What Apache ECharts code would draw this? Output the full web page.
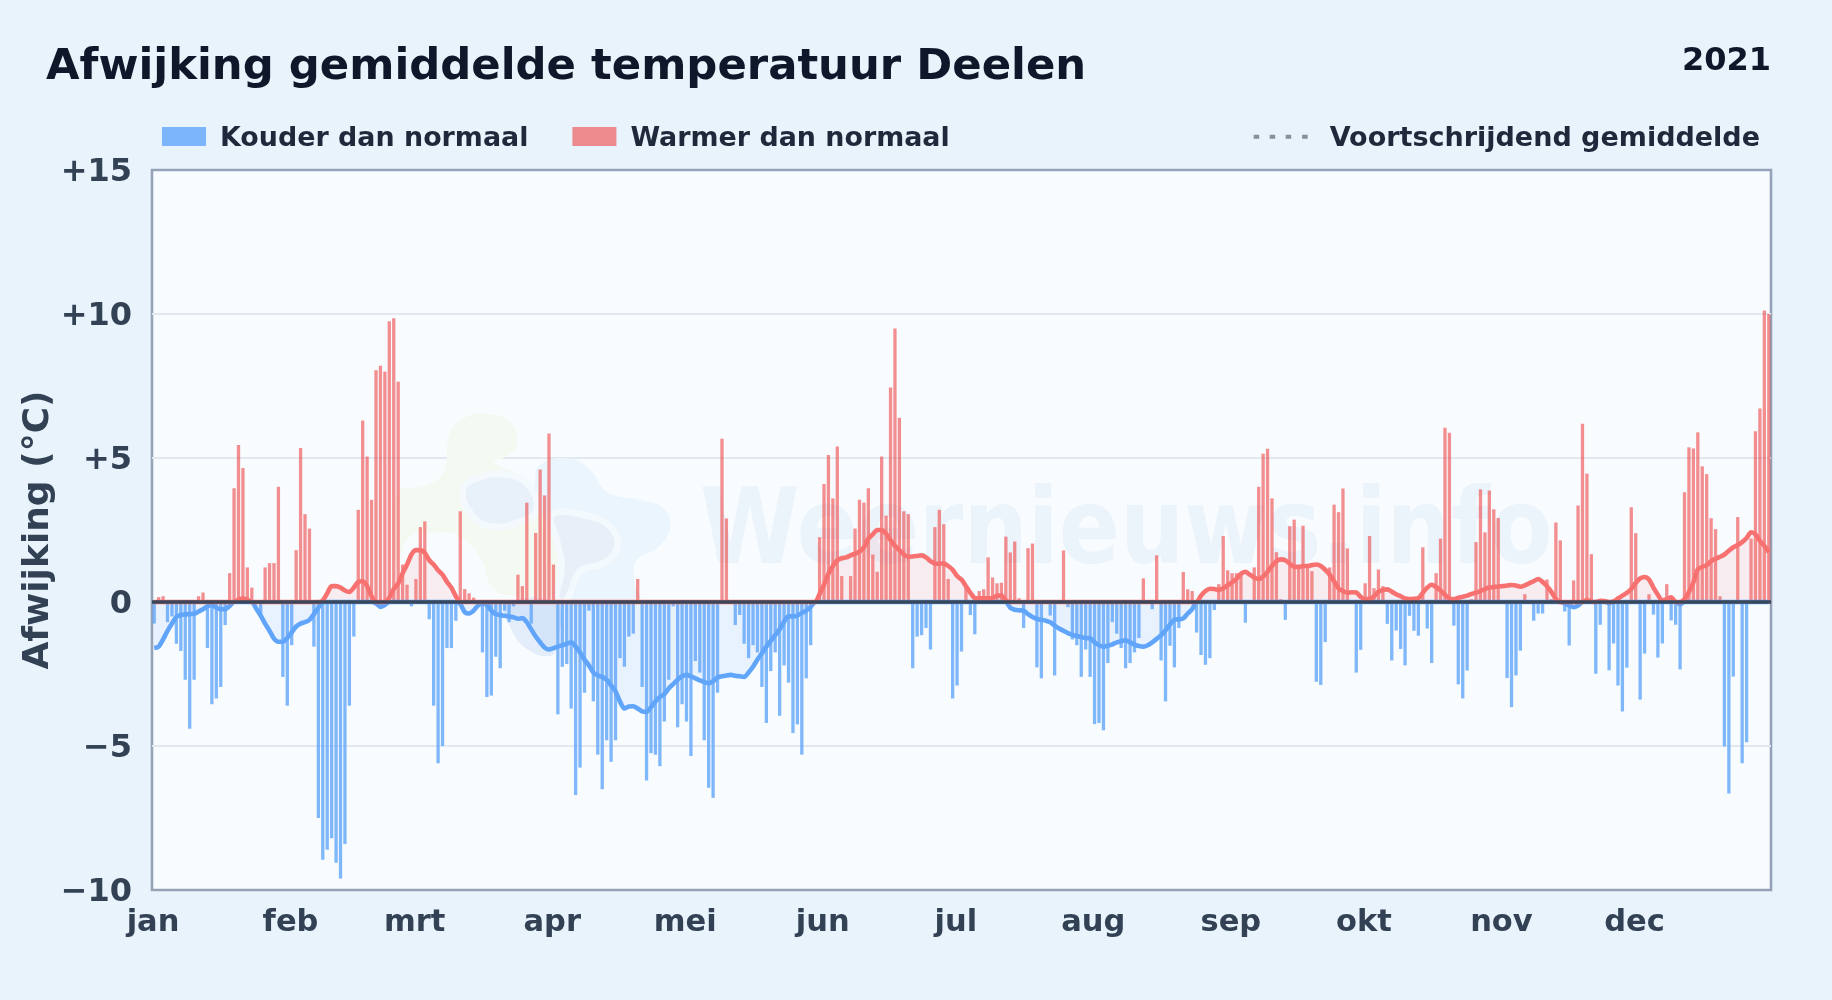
<!DOCTYPE html>
<html><head><meta charset="utf-8">
<style>html,body{margin:0;padding:0;background:#e8f3fc}#c{width:1832px;height:1000px}</style>
<script src="https://cdn.jsdelivr.net/npm/echarts@6/dist/echarts.min.js"></script>
</head><body><div id="c"></div>
<script>
const titleText = "Afwijking gemiddelde temperatuur Deelen";
const yearText = "2021";
const monthLabels = ["jan","feb","mrt","apr","mei","jun","jul","aug","sep","okt","nov","dec"];
const monthStarts = [0,31,59,90,120,151,181,212,243,273,304,334];
const yTicks = [-10,-5,0,5,10,15];
const dailyAnomaly = [
-0.75,0.17,0.2,-0.7,-0.5,-1.45,-1.7,-2.7,-4.4,-2.7,
0.2,0.33,-1.6,-3.55,-3.35,-2.95,-0.8,1.0,3.95,5.45,
4.65,1.2,0.5,0,-0.55,1.2,1.35,1.35,4.0,-2.6,
-3.6,-1.5,1.8,5.35,3.05,2.55,-1.55,-7.5,-8.95,-8.6,
-8.2,-9.05,-9.6,-8.4,-3.6,-1.2,3.2,6.3,5.05,3.55,
8.05,8.2,8.0,9.75,9.85,7.65,1.3,0.6,-0.15,0.8,
2.6,2.8,-0.6,-3.6,-5.6,-5.0,-1.6,-1.6,-0.65,3.15,
0.45,0.3,0.15,0,-1.75,-3.3,-3.25,-1.9,-2.3,-0.3,
-0.7,-0.15,0.95,0.55,3.45,-0.75,2.4,4.6,3.7,5.85,
1.3,-3.9,-2.25,-2.15,-3.7,-6.7,-5.75,-3.15,-0.3,-3.45,
-5.3,-6.5,-4.8,-5.55,-4.8,-1.95,-2.25,-1.2,-1.1,0.8,
-2.95,-6.2,-5.25,-5.3,-5.7,-4.15,-2.7,-0.15,-4.35,-3.55,
-4.15,-5.35,-2.05,-2.45,-4.8,-6.45,-6.8,-3.15,5.67,2.9,
0,-0.8,-0.45,-1.45,-1.95,-1.5,-1.75,-2.95,-4.2,-2.4,
-1.75,-3.95,-2.2,-2.8,-4.55,-4.25,-5.3,-2.65,-1.5,0,
2.25,4.1,5.1,3.6,5.4,0.9,-0.05,0.9,2.55,3.55,
3.45,3.95,1.65,1.05,5.05,3.0,7.45,9.5,6.4,3.15,
3.05,-2.3,-1.2,-1.15,-0.9,-1.65,2.6,3.2,2.7,0.8,
-3.35,-2.9,-1.72,0.5,-0.45,-1.12,0.38,0.44,1.55,0.85,
0.65,0.67,2.27,1.72,2.1,0.13,-0.9,1.87,2.03,-2.27,
-2.65,0,-0.47,-2.55,0,1.79,-0.18,-1.3,-1.5,-2.6,
-1.65,-2.6,-4.24,-4.2,-4.45,-2.12,-0.7,-1.1,-1.6,-2.3,
-2.12,-1.75,-1.25,0.82,0,-0.25,1.62,-2.03,-3.45,-1.52,
-2.27,-0.9,1.04,0.44,0.38,-1.06,-1.84,-2.18,-1.95,-0.28,
0.62,2.29,1.1,1.0,1.0,0.95,-0.72,0,1.2,4.0,
5.15,5.32,3.6,1.73,0.1,-0.62,2.63,2.86,1.25,2.65,
1.22,1.07,-2.77,-2.88,-1.39,1.2,3.38,3.12,3.94,1.86,
0,-2.45,-1.66,0.65,2.29,0.48,1.13,0.55,-0.76,-2.03,
-0.99,-1.63,-2.2,-0.48,-1.0,-1.17,1.9,-0.92,-2.12,1.0,
2.2,6.05,5.88,-0.82,-2.86,-3.35,-2.38,0.1,2.08,3.91,
2.42,3.87,3.22,2.92,0,-2.64,-3.65,-2.55,-1.69,0.27,
0,-0.65,-0.4,-0.4,0.78,0.1,2.76,2.14,-0.33,-1.51,
0.75,3.35,6.19,4.46,1.66,-2.49,-0.79,0,-2.37,-1.44,
-2.9,-3.8,-2.28,3.29,2.39,-3.39,-1.79,0.27,-0.44,-1.93,
-1.44,0.62,-0.64,-0.79,-2.34,3.81,5.37,5.33,5.89,4.71,
4.44,2.91,2.53,0.2,-5.02,-6.65,-2.59,2.95,-5.6,-4.87,
2.2,5.93,6.72,10.12,10.0
];
const rollingAverage = [
-1.6,-1.55,-1.3,-1.0,-0.75,-0.52,-0.45,-0.43,-0.42,-0.41,
-0.33,-0.25,-0.15,-0.1,-0.2,-0.25,-0.25,-0.14,0,0.08,
0.13,0.08,0,-0.23,-0.47,-0.75,-1.0,-1.27,-1.38,-1.38,
-1.25,-1.05,-0.85,-0.75,-0.7,-0.62,-0.42,-0.2,0.05,0.3,
0.55,0.55,0.5,0.4,0.35,0.5,0.7,0.72,0.55,0.2,
-0.05,-0.17,-0.1,0.15,0.45,0.65,1.0,1.3,1.65,1.8,
1.8,1.7,1.45,1.3,1.1,0.95,0.7,0.5,0.2,-0.07,
-0.35,-0.4,-0.3,-0.12,-0.05,-0.1,-0.3,-0.42,-0.45,-0.48,
-0.5,-0.53,-0.58,-0.56,-0.7,-0.95,-1.2,-1.4,-1.58,-1.65,
-1.6,-1.55,-1.5,-1.45,-1.4,-1.55,-1.75,-2.0,-2.2,-2.45,
-2.55,-2.6,-2.7,-2.9,-3.1,-3.45,-3.7,-3.63,-3.62,-3.7,
-3.8,-3.82,-3.65,-3.45,-3.3,-3.2,-3.0,-2.85,-2.7,-2.58,
-2.53,-2.58,-2.65,-2.72,-2.78,-2.82,-2.75,-2.62,-2.58,-2.55,
-2.53,-2.56,-2.58,-2.6,-2.45,-2.25,-2.0,-1.78,-1.55,-1.35,
-1.15,-0.95,-0.68,-0.5,-0.5,-0.47,-0.38,-0.3,-0.17,0,
0.28,0.6,0.98,1.25,1.45,1.52,1.55,1.62,1.68,1.75,
1.9,2.2,2.35,2.5,2.5,2.37,2.15,1.95,1.8,1.65,
1.57,1.58,1.6,1.62,1.55,1.42,1.34,1.33,1.34,1.25,
1.12,0.9,0.78,0.55,0.32,0.14,0.13,0.13,0.13,0.13,
0.22,0.22,0.06,-0.2,-0.27,-0.29,-0.3,-0.42,-0.52,-0.59,
-0.62,-0.65,-0.7,-0.82,-0.92,-1.0,-1.08,-1.14,-1.18,-1.22,
-1.25,-1.26,-1.4,-1.5,-1.55,-1.52,-1.47,-1.4,-1.36,-1.33,
-1.4,-1.48,-1.53,-1.55,-1.5,-1.4,-1.28,-1.15,-0.98,-0.78,
-0.62,-0.6,-0.57,-0.4,-0.25,0,0.22,0.38,0.46,0.45,
0.42,0.48,0.58,0.68,0.8,0.98,1.05,0.95,0.85,0.8,
0.88,1.05,1.25,1.42,1.48,1.45,1.33,1.22,1.22,1.25,
1.25,1.28,1.3,1.25,1.12,0.95,0.72,0.47,0.38,0.32,
0.34,0.33,0.18,0.1,0.1,0.2,0.36,0.42,0.44,0.36,
0.27,0.2,0.12,0.1,0.11,0.13,0.32,0.5,0.6,0.52,
0.4,0.25,0.12,0.1,0.15,0.18,0.22,0.28,0.33,0.38,
0.45,0.5,0.52,0.54,0.55,0.57,0.59,0.57,0.53,0.58,
0.65,0.72,0.8,0.7,0.55,0.35,0.1,0,-0.05,-0.12,
-0.18,-0.12,0,0.07,0.02,0,0.04,0.03,-0.04,0.02,
0.12,0.22,0.32,0.45,0.66,0.82,0.87,0.78,0.5,0.25,
0.05,0.1,0.16,0,-0.08,0.1,0.35,0.68,1.13,1.22,
1.28,1.42,1.5,1.57,1.65,1.78,1.9,1.98,2.08,2.22,
2.42,2.35,2.12,1.95,1.73
];
const BG = '#e8f3fc', PLOT = '#f8fcff';
const coldBars = dailyAnomaly.map((v,i)=>[i+0.5, v<0?v:null]);
const warmBars = dailyAnomaly.map((v,i)=>[i+0.5, v>0?v:null]);
const coldAvg = rollingAverage.map((v,i)=>[i+0.5, Math.min(v,0)]);
const warmAvg = rollingAverage.map((v,i)=>[i+0.5, Math.max(v,0)]);
const FONT = '"DejaVu Sans", sans-serif';
const blob = (pts,fill,stroke)=>({type:'polygon',x:380,y:400,scaleX:1/3,scaleY:1/3,z:1,silent:true,
  shape:{points:pts,smooth:0.45},style:{fill:fill,stroke:stroke||'none',lineWidth:stroke?20:0}});
const chart = echarts.init(document.getElementById('c'),null,{renderer:'canvas'});
chart.setOption({
  animation:false,
  backgroundColor:BG,
  textStyle:{fontFamily:FONT},
  title:[
    {text:titleText,left:46,top:46,padding:0,textStyle:{fontFamily:FONT,fontWeight:'bold',fontSize:43.35,color:'#0f172a'}},
    {text:yearText,right:61,top:46,padding:0,textStyle:{fontFamily:FONT,fontWeight:'bold',fontSize:32,color:'#0f172a'}}
  ],
  legend:[
    {left:162,top:125.3,padding:0,itemWidth:44,itemHeight:23.6,itemGap:44,
     icon:'path://M0 0h44v19h-44zM0 23.6h0',
     data:['Kouder dan normaal','Warmer dan normaal'],
     textStyle:{fontFamily:FONT,fontWeight:'bold',fontSize:26.9,color:'#1e293b',padding:[0,0,0,9]}},
    {right:72,top:125.3,padding:0,itemWidth:54,itemHeight:8,
     icon:'path://M0 0h5.5v4h-5.5zM16 0h5.5v4h-5.5zM32 0h5.5v4h-5.5zM48.5 0h5.5v4h-5.5zM0 8h0',
     data:['Voortschrijdend gemiddelde'],
     textStyle:{fontFamily:FONT,fontWeight:'bold',fontSize:27,color:'#1e293b',padding:[0,0,0,17]}}
  ],
  grid:{left:152,right:61,top:170,bottom:110,show:true,backgroundColor:PLOT,borderColor:'#94a3b8',borderWidth:2.6},
  xAxis:{type:'value',min:0,max:365,splitLine:{show:false},axisLine:{show:false},axisTick:{show:false},
    axisLabel:{customValues:monthStarts,formatter:v=>monthLabels[monthStarts.indexOf(v)],margin:18,padding:[0,0,0,2],
      fontFamily:FONT,fontWeight:'bold',fontSize:30.5,color:'#334155',hideOverlap:false}},
  yAxis:{type:'value',min:yTicks[0],max:yTicks[yTicks.length-1],interval:5,
    name:'Afwijking (°C)',nameLocation:'middle',nameGap:95,nameRotate:90,nameMoveOverlap:false,
    nameTextStyle:{fontFamily:FONT,fontWeight:'bold',fontSize:36,color:'#334155'},
    axisLine:{show:false},axisTick:{show:false},
    splitLine:{show:true,showMinLine:false,showMaxLine:false,lineStyle:{color:'#e2e8f0',width:2}},
    axisLabel:{margin:20,verticalAlign:'top',lineHeight:5,formatter:v=>v>0?'+'+v:(v<0?'\u2212'+Math.abs(v):'0'),
      fontFamily:FONT,fontWeight:'bold',fontSize:32,color:'#334155'}},
  graphic:[
    blob([[210,100],[260,50],[320,42],[390,65],[410,135],[375,172],[340,185],[440,240],[500,330],[540,430],[545,500],[510,590],[420,590],[340,565],[300,470],[230,405],[170,398],[90,410],[50,500],[50,280],[130,258],[190,220]],'#f4faf2'),
    blob([[480,195],[560,175],[630,210],[680,275],[780,300],[850,325],[870,385],[830,445],[770,480],[762,540],[775,600],[530,600],[545,500],[515,400],[470,300],[465,240]],'#eaf5fd'),
    blob([[248,270],[300,232],[385,225],[445,255],[470,330],[420,365],[340,380],[280,350]],'#e8f1fa','#f4f9fd'),
    blob([[515,345],[610,345],[690,380],[712,440],[670,490],[600,515],[560,600],[530,600],[545,500],[530,420]],'#e8eff8','#f4f9fd'),
    blob([[380,612],[395,690],[445,750],[510,768],[530,740],[530,612]],'#e3eefa'),
    {type:'text',x:700,y:536,z:1,silent:true,scaleX:0.86,
     style:{text:'Weernieuws.info',fontFamily:FONT,fontWeight:'bold',fontSize:105,fill:'#ebf3fb',verticalAlign:'middle'}}
  ],
  series:[
    {name:'Kouder dan normaal',type:'bar',data:coldBars,barWidth:3.3,barGap:'-100%',z:3,
     itemStyle:{color:'#60a5fa',opacity:0.8}},
    {name:'Warmer dan normaal',type:'bar',data:warmBars,barWidth:3.3,barGap:'-100%',z:3,
     itemStyle:{color:'rgba(239,68,68,0.6)'}},
    {name:'koud-gemiddelde',type:'line',data:coldAvg,showSymbol:false,symbol:'none',smooth:0.25,z:4,
     lineStyle:{color:'#60a5fa',width:4.6},areaStyle:{color:'rgba(96,165,250,0.15)'}},
    {name:'warm-gemiddelde',type:'line',data:warmAvg,showSymbol:false,symbol:'none',smooth:0.25,z:4,
     lineStyle:{color:'#f87171',width:4.6},areaStyle:{color:'rgba(248,113,113,0.15)'},
     markLine:{silent:true,symbol:'none',z:10,label:{show:false},data:[{yAxis:0}],
       lineStyle:{color:'#3a4659',width:3.5,type:'solid'}}},
    {name:'Voortschrijdend gemiddelde',type:'scatter',data:[],itemStyle:{color:'#6b7787'}}
  ]
});
</script></body></html>
